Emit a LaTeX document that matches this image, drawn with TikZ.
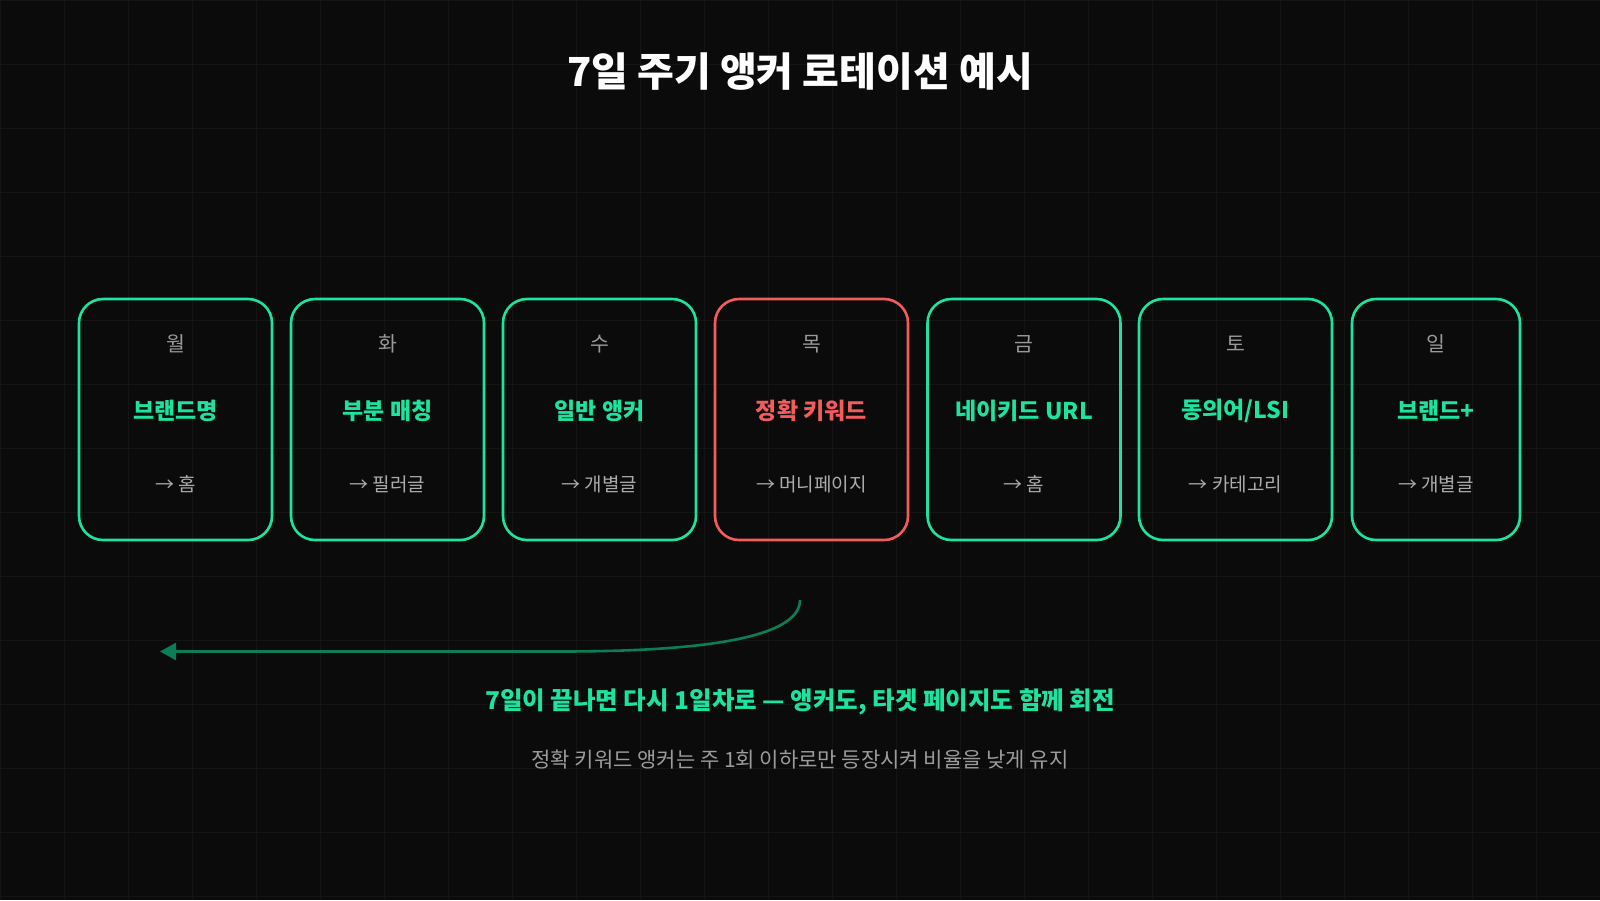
\documentclass[tikz,border=0pt]{standalone}
\usepackage{fontspec}
\setmainfont{Noto Sans CJK KR}
\newfontfamily\kr{Noto Sans CJK KR}
\usetikzlibrary{arrows.meta}
\definecolor{bgc}{HTML}{0B0B0B}
\definecolor{gridc}{HTML}{141414}
\definecolor{accent}{HTML}{1DE3A0}
\definecolor{warn}{HTML}{F25C5C}
\definecolor{daygrey}{HTML}{9A9A9A}
\definecolor{tgtgrey}{HTML}{ABABAB}
\definecolor{arrowc}{HTML}{0B7D58}
\definecolor{subgrey}{HTML}{9C9C9C}
\tikzset{
  daybox/.style={draw=accent, line width=2.6pt, rounded corners=24pt, minimum height=241pt, inner sep=0pt},
  daylbl/.style={font=\kr\fontsize{20.5}{24}\selectfont, text=daygrey},
  anchorlbl/.style={font=\kr\bfseries\fontsize{23}{28}\selectfont, text=accent},
  tgtlbl/.style={font=\kr\fontsize{19}{23}\selectfont, text=tgtgrey},
}
\begin{document}
\begin{tikzpicture}[x=1pt,y=-1pt]
\fill[bgc] (0,0) rectangle (1600,900);
\useasboundingbox (0,0) rectangle (1600,900);
\foreach \gx in {0,64,...,1600} \draw[gridc, line width=1pt] (\gx,0) -- (\gx,900);
\foreach \gy in {0,64,...,900} \draw[gridc, line width=1pt] (0,\gy) -- (1600,\gy);

\node[font=\kr\bfseries\fontsize{40}{48}\selectfont, text=white] (title) at (800,72) {7일 주기 앵커 로테이션 예시};

% boxes
\node[daybox, minimum width=193pt] (b1) at (175.5,419.5) {};
\node[daybox, minimum width=193pt] (b2) at (387.5,419.5) {};
\node[daybox, minimum width=193pt] (b3) at (599.5,419.5) {};
\node[daybox, draw=warn, minimum width=193pt] (b4) at (811.5,419.5) {};
\node[daybox, minimum width=193pt] (b5) at (1024,419.5) {};
\node[daybox, minimum width=193pt] (b6) at (1235.5,419.5) {};
\node[daybox, minimum width=168pt] (b7) at (1436,419.5) {};

\node[daylbl] (d1) at (175.5,344) {월};
\node[daylbl] (d2) at (387.5,344) {화};
\node[daylbl] (d3) at (599.5,344) {수};
\node[daylbl] (d4) at (811.5,344) {목};
\node[daylbl] (d5) at (1024,344) {금};
\node[daylbl] (d6) at (1235.5,344) {토};
\node[daylbl] (d7) at (1436,344) {일};

\node[anchorlbl] (a1) at (175.5,411) {브랜드명};
\node[anchorlbl] (a2) at (387.5,411) {부분 매칭};
\node[anchorlbl] (a3) at (599.5,411) {일반 앵커};
\node[anchorlbl, text=warn] (a4) at (811.5,411) {정확 키워드};
\node[anchorlbl] (a5) at (1024,411) {네이키드 URL};
\node[anchorlbl] (a6) at (1235.5,411) {동의어/LSI};
\node[anchorlbl] (a7) at (1436,411) {브랜드+};

\node[tgtlbl] (t1) at (175.5,484) {→ 홈};
\node[tgtlbl] (t2) at (387.5,484) {→ 필러글};
\node[tgtlbl] (t3) at (599.5,484) {→ 개별글};
\node[tgtlbl] (t4) at (811.5,484) {→ 머니페이지};
\node[tgtlbl] (t5) at (1024,484) {→ 홈};
\node[tgtlbl] (t6) at (1235.5,484) {→ 카테고리};
\node[tgtlbl] (t7) at (1436,484) {→ 개별글};

% loop arrow
\coordinate (loopstart) at (800,600);
\coordinate (loopend) at (160,651.5);
\draw[arrowc, line width=2.6pt, -{Triangle[length=16pt,width=17pt]}]
  (loopstart) .. controls (800,642) and (680,651.5) .. (560,651.5) -- (loopend);

\node[font=\kr\bfseries\fontsize{24.5}{29}\selectfont, text=accent] (note) at (800,702) {7일이 끝나면 다시 1일차로 — 앵커도, 타겟 페이지도 함께 회전};
\node[font=\kr\fontsize{21}{25}\selectfont, text=subgrey] (sub) at (800,760) {정확 키워드 앵커는 주 1회 이하로만 등장시켜 비율을 낮게 유지};
\end{tikzpicture}
\end{document}
